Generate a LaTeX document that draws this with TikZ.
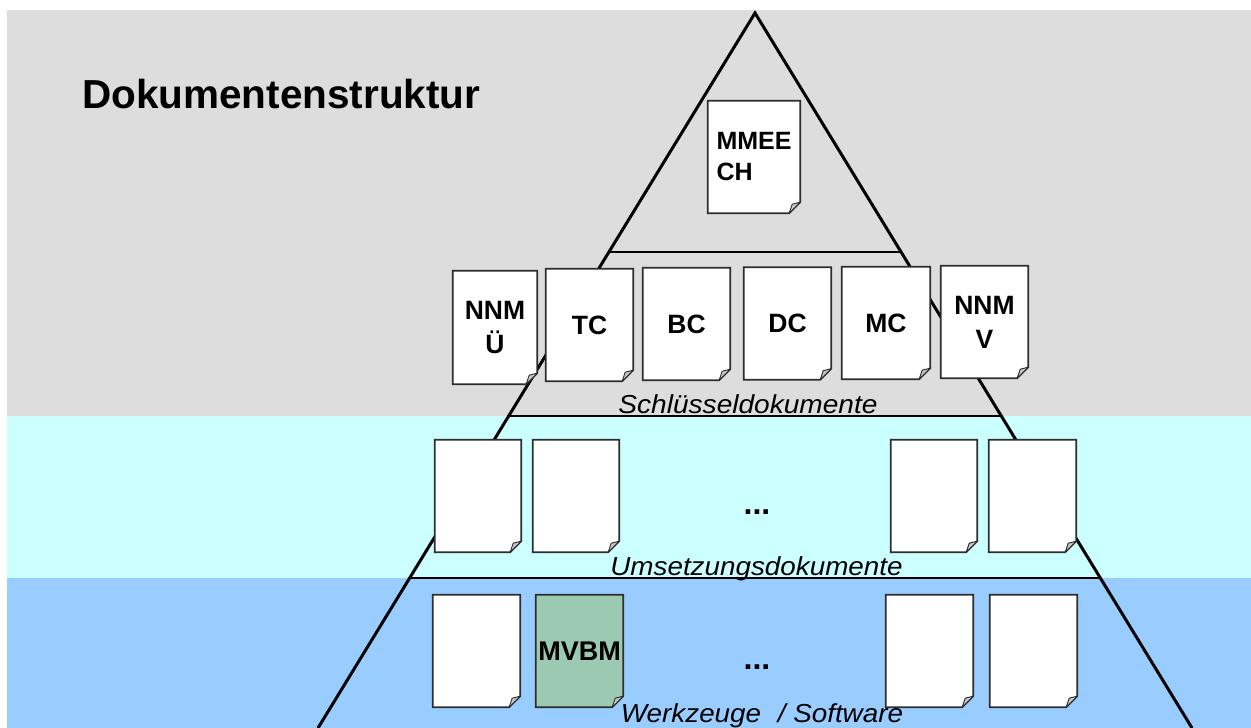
\documentclass[tikz,border=0pt]{standalone}
\usepackage{fontspec}
\usepackage{graphicx}
\setmainfont{Liberation Sans}
\usetikzlibrary{calc}
\definecolor{bggray}{RGB}{221,221,221}
\definecolor{bgcyan}{RGB}{204,255,255}
\definecolor{bgblue}{RGB}{153,204,255}
\definecolor{docgreen}{RGB}{155,201,177}
\definecolor{docline}{RGB}{45,45,45}
\pgfdeclarelayer{bg}
\pgfdeclarelayer{docs}
\pgfsetlayers{bg,docs,main}
\begin{document}
\begin{tikzpicture}[x=1pt,y=-1pt,
  docnode/.style={minimum width=87pt, minimum height=112pt, inner sep=0pt,
    font=\fontsize{26.5}{34}\selectfont\bfseries, align=center},
  docoutline/.style={draw=docline, line width=1.8pt, line join=miter},
  foldstyle/.style={fill=gray!45, draw=docline, line width=0.9pt, line join=round},
  tri/.style={line width=3pt, line join=miter},
  level/.style={line width=2.2pt},
  caption/.style={font=\fontsize{26}{30}\selectfont\itshape, anchor=base, inner sep=0pt},
  dots/.style={font=\fontsize{32}{34}\selectfont\bfseries, anchor=base, inner sep=0pt}]
\useasboundingbox (0,0) rectangle (1251,728);

\begin{pgfonlayer}{bg}
  \fill[bggray] (7,10) rectangle (1251,416);
  \fill[bgcyan] (7,416) rectangle (1251,578);
  \fill[bgblue] (7,578) rectangle (1251,728);
  \coordinate (apex) at (755,13);
  \coordinate (bl) at (318,728);
  \coordinate (br) at (1192,728);
  \draw[tri] (bl) -- (apex) -- (br);
  \coordinate (l1) at ($(apex)!0.3343!(bl)$);
  \coordinate (r1) at ($(apex)!0.3343!(br)$);
  \coordinate (l2) at ($(apex)!0.5636!(bl)$);
  \coordinate (r2) at ($(apex)!0.5636!(br)$);
  \coordinate (l3) at ($(apex)!0.7902!(bl)$);
  \coordinate (r3) at ($(apex)!0.7902!(br)$);
  \draw[level] (l1) -- (r1);
  \draw[level] (l2) -- (r2);
  \draw[level] (l3) -- (r3);
\end{pgfonlayer}

\node[anchor=base west, inner sep=0pt, font=\fontsize{40.5}{45}\selectfont\bfseries] (title) at (82,108) {Dokumentenstruktur};

% top document
\node[docnode, minimum width=92pt, align=left, font=\fontsize{25}{31}\selectfont\bfseries] (mmeech) at (754,157) {MMEE\\CH};

% key documents
\node[docnode, minimum width=84pt, minimum height=113pt] (nnmu) at (495,327.5) {NNM\\Ü};
\node[docnode] (tc) at (589.5,325) {TC};
\node[docnode] (bc) at (686.5,324) {BC};
\node[docnode] (dc) at (787.5,323.5) {DC};
\node[docnode, minimum width=88pt] (mc) at (886,323) {MC};
\node[docnode] (nnmv) at (984.5,322) {NNM\\V};
\node[caption] (cap1) at (748,413) {\scalebox{1.08}[1]{Schlüsseldokumente}};

% implementation documents
\node[docnode, minimum width=86pt] (u1) at (478,496) {};
\node[docnode, minimum width=86pt] (u2) at (576,496) {};
\node[docnode, minimum width=86pt] (u3) at (934,496) {};
\node[docnode] (u4) at (1032.5,496) {};
\node[dots] (e1) at (757,514) {...};
\node[caption] (cap2) at (756.5,575) {\scalebox{1.07}[1]{Umsetzungsdokumente}};

% tools
\node[docnode] (w1) at (476.5,651) {};
\node[docnode, font=\fontsize{27}{34}\selectfont\bfseries] (mvbm) at (579.5,651) {MVBM};
\node[docnode] (w3) at (929.5,651) {};
\node[docnode] (w4) at (1033.5,651) {};
\node[dots] (e2) at (757,669) {...};
\node[caption] (cap3) at (762,722) {\scalebox{1.07}[1]{Werkzeuge\hspace{0.6em}/ Software}};

\begin{pgfonlayer}{docs}
  \foreach \n/\c in {mmeech/white, nnmu/white, tc/white, bc/white, dc/white, mc/white, nnmv/white,
                     u1/white, u2/white, u3/white, u4/white,
                     w1/white, mvbm/docgreen, w3/white, w4/white} {
    \draw[docoutline, fill=\c] (\n.north west) -- (\n.north east) -- ([yshift=11pt]\n.south east)
      -- ([xshift=-11pt]\n.south east) -- (\n.south west) -- cycle;
    \draw[foldstyle] ([yshift=11pt]\n.south east) -- ([xshift=-11pt]\n.south east)
      -- ([shift={(-8pt,9pt)}]\n.south east) -- cycle;
  }
\end{pgfonlayer}
\end{tikzpicture}
\end{document}
